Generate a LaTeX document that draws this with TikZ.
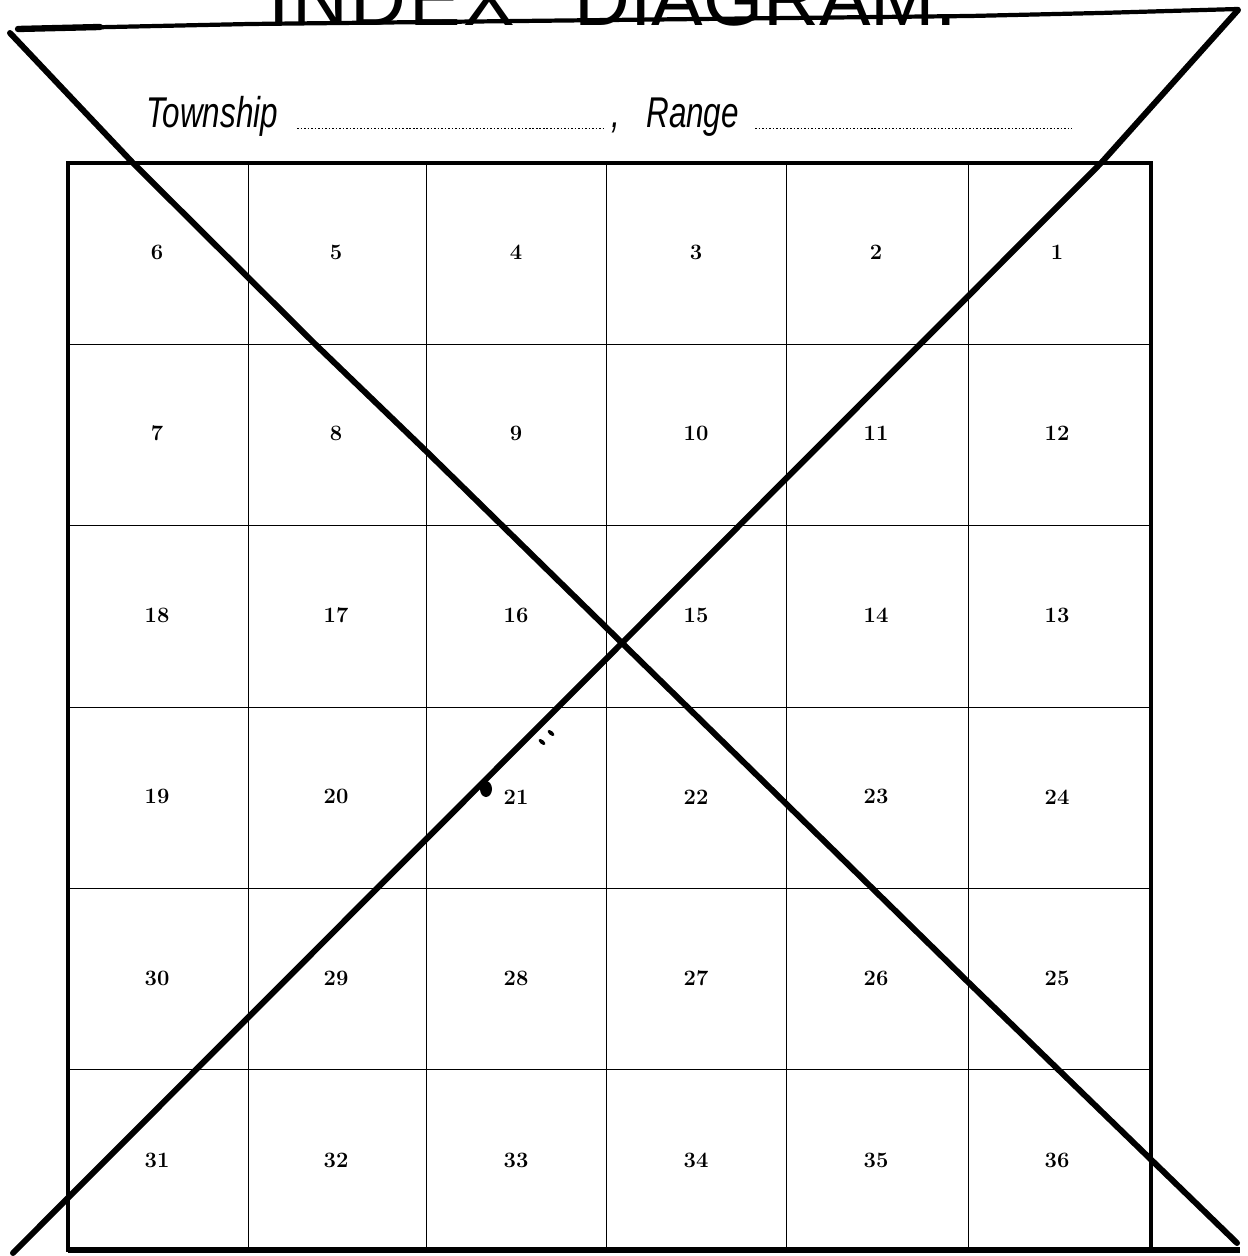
\documentclass[tikz,border=0pt]{standalone}
\usepackage{fontspec}
\newfontfamily\titlefont{Liberation Sans}
\newfontfamily\condit{Liberation Sans}[FakeStretch=0.73]
\begin{document}
\begin{tikzpicture}[x=0.02cm,y=-0.02cm,
  num/.style={font=\fontsize{12.5}{13}\selectfont\bfseries, inner sep=0},
  gridline/.style={line width=0.5pt},
  frameline/.style={line width=2.5pt},
  crossline/.style={line width=3.4pt, line cap=round, line join=round},
  topline/.style={line width=2.4pt, line cap=round},
  leader/.style={line width=0.55pt, dash pattern=on 0.9pt off 1.1pt},
  ttl/.style={font=\titlefont\fontsize{44}{48}\selectfont, inner sep=0, anchor=base west},
  hdr/.style={font=\condit\itshape\fontsize{24.5}{28}\selectfont, inner sep=0, anchor=base west}]
\useasboundingbox (0,0) rectangle (1247,1256);
\clip (0,0) rectangle (1247,1256);
% title (cut off at the top, as in the original print)
\node[ttl] (tindex) at (268,26) {\addfontfeature{LetterSpace=3.5}INDEX};
\node[ttl] (tdiag) at (574,26) {DIAGRAM.};
% slanted line over the title
\coordinate (tla) at (18,29);
\coordinate (tlb) at (250,24);
\coordinate (tlc) at (970,16);
\coordinate (tld) at (1100,13);
\coordinate (tle) at (1238,9);
\draw[topline] (tla) -- (tlb) -- (tlc) -- (tld) -- (tle);
\draw[line width=3.6pt, line cap=round] (tla) -- (100,27);
% Township / Range line
\node[hdr] (town) at (146,128) {Township};
\coordinate (l1a) at (297,128);
\coordinate (l1b) at (605,128);
\draw[leader] (l1a) -- (l1b);
\node[hdr] (comma) at (611,128) {,};
\node[hdr] (range) at (646,128) {Range};
\coordinate (l2a) at (755,128);
\coordinate (l2b) at (1072,128);
\draw[leader] (l2a) -- (l2b);
% grid
\coordinate (ftl) at (68,163);
\coordinate (ftr) at (1151,163);
\coordinate (fbl) at (68,1250);
\coordinate (fbr) at (1151,1250);
\coordinate (bend) at (1240,1250);
\foreach \x in {248,426,606,786,968}
  \draw[gridline] (\x,163) -- (\x,1250);
\foreach \y in {344,525,707,888,1069}
  \draw[gridline] (68,\y) -- (1151,\y);
\draw[frameline, line cap=rect] (fbl) -- (ftl) -- (ftr) -- (fbr);
\draw[line width=2.9pt] (fbl) -- (bend);
% section numbers
\foreach \a/\b/\c/\d/\e/\f [count=\r] in {6/5/4/3/2/1, 7/8/9/10/11/12, 18/17/16/15/14/13, 19/20/21/22/23/24, 30/29/28/27/26/25, 31/32/33/34/35/36} {
  \pgfmathsetmacro{\yy}{252+181.6*(\r-1)}
  \node[num] (s\a) at (157,\yy) {\a};
  \node[num] (s\b) at (336,\yy) {\b};
  \node[num] (s\c) at (516,\yy) {\c};
  \node[num] (s\d) at (696,\yy) {\d};
  \node[num] (s\e) at (876,\yy) {\e};
  \node[num] (s\f) at (1057,\yy) {\f};
}
% the big cross
\coordinate (da) at (10,33);
\coordinate (db) at (132,162);
\coordinate (dc) at (315,344);
\coordinate (dd) at (426,451);
\coordinate (dx) at (622,643);
\coordinate (de) at (968,982);
\coordinate (df) at (1237,1243);
\draw[crossline] (da) -- (db) -- (dc) -- (dd) -- (dx) -- (de) -- (df);
\coordinate (ea) at (1238,10);
\coordinate (eb) at (1102,162);
\coordinate (ec) at (13,1253);
\draw[crossline] (ea) -- (eb) -- (dx) -- (ec);
% ink marks
\fill (486,789) ellipse [x radius=6, y radius=8];
\fill[rotate around={-40:(542,742)}] (542,742) ellipse [x radius=4, y radius=2];
\fill[rotate around={-40:(551,733)}] (551,733) ellipse [x radius=4, y radius=2];
\end{tikzpicture}
\end{document}
